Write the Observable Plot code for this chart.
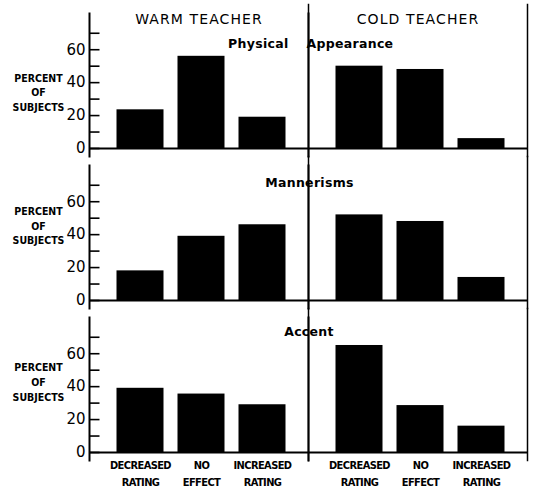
<!DOCTYPE html>
<html><head><meta charset="utf-8">
<script src="https://cdn.jsdelivr.net/npm/d3@7"></script>
<script src="https://cdn.jsdelivr.net/npm/@observablehq/plot@0.6"></script>
<style>
body{margin:0;background:#fff;}
#chart svg{display:block;}
g[aria-description="teacher-title"] text{letter-spacing:1.1px;}
g[aria-description="panel-title"] text{letter-spacing:0.3px;}
g[aria-label="x-axis tick label"] text{letter-spacing:-0.6px;}
</style></head><body><div id="chart"></div>
<script>
const categories = ["DEC", "NO", "INC"];
const categoryLabels = ["DECREASED\nRATING", "NO\nEFFECT", "INCREASED\nRATING"];
const teachers = ["WARM TEACHER", "COLD TEACHER"];
const panels = ["Physical Appearance", "Mannerisms", "Accent"];
const physicalWarm = [23.5, 56, 19];
const physicalCold = [50, 48, 6];
const mannerismsWarm = [18, 39, 46];
const mannerismsCold = [52, 48, 14];
const accentWarm = [39, 35.5, 29];
const accentCold = [65, 28.5, 16];
const yTicks = [0, 10, 20, 30, 40, 50, 60, 70];
const yLabels = [0, 20, 40, 60];
const yAxisTitle = "PERCENT\nOF\nSUBJECTS";

const series = [[physicalWarm, physicalCold], [mannerismsWarm, mannerismsCold], [accentWarm, accentCold]];
const rows = [];
panels.forEach((p, i) => teachers.forEach((t, j) => categories.forEach((c, k) =>
  rows.push({panel: p, teacher: t, cat: c, value: series[i][j][k]}))));
const tickRows = [];
panels.forEach(p => yTicks.forEach(v => tickRows.push({panel: p, teacher: teachers[0], v})));

const narrow = "'Liberation Sans Narrow', 'DejaVu Sans Condensed', 'Arial Narrow', sans-serif";
const cold = teachers[1];
const titleLevel = [34.5, 46, 43.5];

const plot = Plot.plot({
  width: 536, height: 490,
  marginLeft: 89, marginRight: 9, marginTop: 12.5, marginBottom: 38.5,
  style: {fontFamily: "'DejaVu Sans', sans-serif", background: "#fff", color: "#000"},
  fx: {domain: teachers, padding: 0, axis: null},
  fy: {domain: panels, paddingInner: 0.112, paddingOuter: 0, axis: null},
  x: {domain: categories, paddingInner: 0.23, paddingOuter: 0.4},
  y: {domain: [0, 82]},
  marks: [
    Plot.barY(rows, {fx: "teacher", fy: "panel", x: "cat", y: "value", fill: "#000", dx: 2.5}),
    Plot.ruleY([0], {strokeWidth: 2.2}),
    Plot.frame({anchor: "left", strokeWidth: 2, insetBottom: -8}),
    Plot.frame({anchor: "right", strokeWidth: 1.5, insetTop: -9, insetBottom: -8}),
    Plot.tickY(tickRows, {fx: "teacher", fy: "panel", y: "v", insetRight: 208.5, strokeWidth: 1.6}),
    Plot.axisY({ticks: yLabels, tickSize: 0, tickPadding: 4, label: null, fontSize: 15}),
    Plot.axisX({tickSize: 0, tickPadding: 4, label: null, dx: 2.5,
      tickFormat: d => categoryLabels[categories.indexOf(d)],
      fontSize: 11, fontFamily: narrow, fontWeight: "bold", lineHeight: 1.55}),
    Plot.text(teachers.map(t => ({teacher: t, panel: panels[0]})), {
      fx: "teacher", fy: "panel", text: "teacher", frameAnchor: "top", dy: 1,
      fontSize: 14, ariaDescription: "teacher-title"}),
    Plot.text(panels.map(p => ({teacher: teachers[0], panel: p})), {
      fx: "teacher", fy: "panel", y: d => titleLevel[panels.indexOf(d.panel)],
      frameAnchor: "left", dx: -51,
      text: () => yAxisTitle, textAnchor: "middle", lineHeight: 1.42,
      fontSize: 10.5, fontWeight: "bold", fontFamily: narrow}),
    Plot.text([{teacher: cold, panel: panels[0], t: panels[0].split(" ")[0]}], {
      fx: "teacher", fy: "panel", text: "t", frameAnchor: "top-left", textAnchor: "end",
      lineAnchor: "middle", dx: -20, dy: 30.5, fontSize: 12.5, fontWeight: "bold", ariaDescription: "panel-title"}),
    Plot.text([{teacher: cold, panel: panels[0], t: panels[0].split(" ")[1]}], {
      fx: "teacher", fy: "panel", text: "t", frameAnchor: "top-left", textAnchor: "start",
      lineAnchor: "middle", dx: -2, dy: 30.5, fontSize: 12.5, fontWeight: "bold", ariaDescription: "panel-title"}),
    Plot.text([{teacher: cold, panel: panels[1]}], {
      fx: "teacher", fy: "panel", text: "panel", frameAnchor: "top-left", textAnchor: "middle",
      lineAnchor: "middle", dx: 1, dy: 17.5, fontSize: 12.5, fontWeight: "bold", ariaDescription: "panel-title"}),
    Plot.text([{teacher: cold, panel: panels[2]}], {
      fx: "teacher", fy: "panel", text: "panel", frameAnchor: "top-left", textAnchor: "middle",
      lineAnchor: "middle", dx: 0.5, dy: 14, fontSize: 12.5, fontWeight: "bold", ariaDescription: "panel-title"})
  ]
});
document.getElementById("chart").append(plot);
</script></body></html>
